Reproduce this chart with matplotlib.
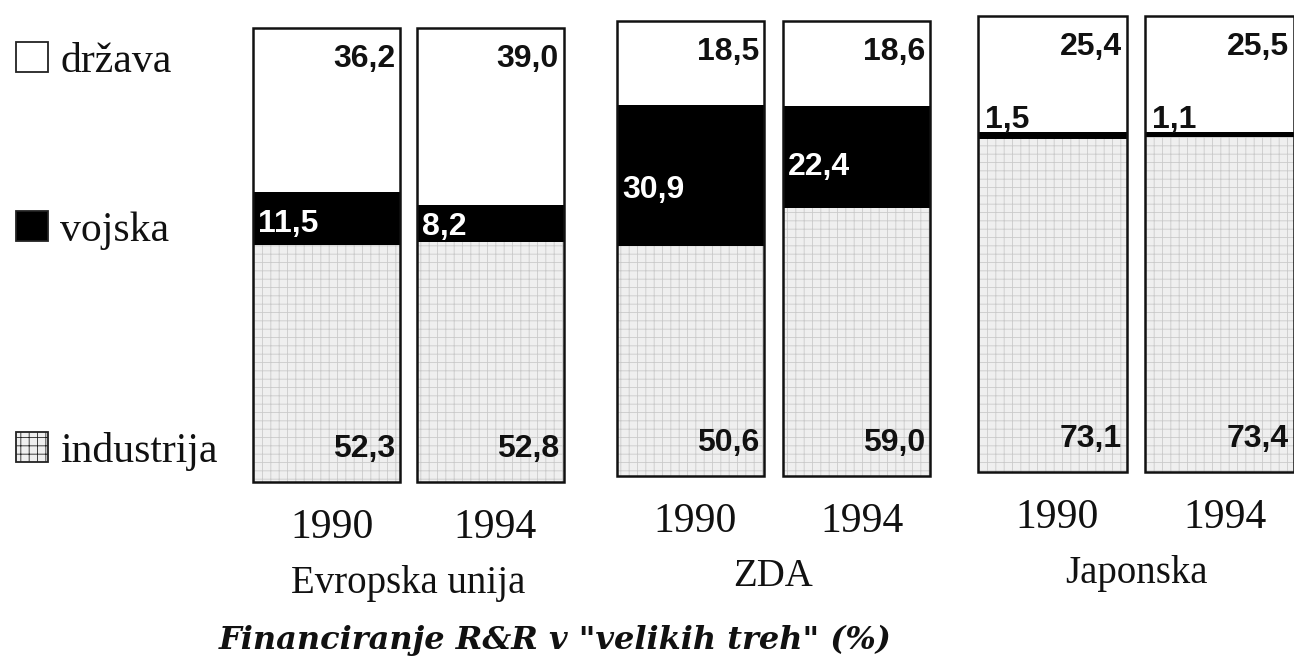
import matplotlib.pyplot as plt
from matplotlib.patches import Rectangle

groups = ['Evropska unija', 'ZDA', 'Japonska']
years = ['1990', '1994']
series = ['država', 'vojska', 'industrija']
drzava = [[36.2, 39.0], [18.5, 18.6], [25.4, 25.5]]
vojska = [[11.5, 8.2], [30.9, 22.4], [1.5, 1.1]]
industrija = [[52.3, 52.8], [50.6, 59.0], [73.1, 73.4]]
title = 'Financiranje R&R v "velikih treh" (%)'

W, H = 1294, 660
px = 0.72  # points per pixel at dpi 100
serif = 'Liberation Serif'
sans = 'Liberation Sans'

plt.rcParams['hatch.linewidth'] = 0.6

fig = plt.figure(figsize=(W / 100, H / 100), dpi=100)

# pixel boxes of each group (left, right, top, bottom) - the scan is slightly tilted
boxes = [(253, 564, 28, 482), (617, 930, 21, 476), (978, 1294, 16, 472)]
bar_w = [0.9, 0.885, 0.89]

def fmt(v):
    return f'{v:.1f}'.replace('.', ',')

for g, name in enumerate(groups):
    l, r, t, b = boxes[g]
    ax = fig.add_axes([l / W, 1 - b / H, (r - l) / W, (b - t) / H])
    w = bar_w[g]
    ax.set_xlim(-w / 2, 1 + w / 2)
    ax.set_ylim(0, 100)
    ax.set_axis_off()
    x = [0, 1]
    ind = industrija[g]
    voj = vojska[g]
    drz = drzava[g]
    bot2 = [a + c for a, c in zip(ind, voj)]
    tot = [a + c for a, c in zip(bot2, drz)]
    ax.bar(x, ind, width=w, color='#efefef', edgecolor='#cacaca', hatch='++', linewidth=0)
    ax.bar(x, voj, width=w, bottom=ind, color='black', linewidth=0)
    ax.bar(x, drz, width=w, bottom=bot2, color='white', linewidth=0)
    ax.bar(x, tot, width=w, fill=False, edgecolor='#111111', linewidth=1.8, clip_on=False)

    for i in x:
        right = i + w / 2
        left = i - w / 2
        ax.annotate(fmt(drz[i]), xy=(right, tot[i]), xytext=(-5 * px, -31 * px),
                    textcoords='offset points', ha='right', va='center',
                    fontfamily=sans, fontweight='bold', fontsize=23, color='#111111')
        ax.annotate(fmt(ind[i]), xy=(right, 0), xytext=(-5 * px, 33 * px),
                    textcoords='offset points', ha='right', va='center',
                    fontfamily=sans, fontweight='bold', fontsize=23, color='#111111')
        if voj[i] > 5:
            ax.annotate(fmt(voj[i]), xy=(left, ind[i] + 0.4 * voj[i]), xytext=(5 * px, 0),
                        textcoords='offset points', ha='left', va='center',
                        fontfamily=sans, fontweight='bold', fontsize=23, color='white')
        else:
            ax.annotate(fmt(voj[i]), xy=(left, bot2[i]), xytext=(7 * px, 12 * px),
                        textcoords='offset points', ha='left', va='center',
                        fontfamily=sans, fontweight='bold', fontsize=23, color='#111111')
        ax.annotate(years[i], xy=(i, 0), xycoords=('data', 'axes fraction'),
                    xytext=(5 * px, -46 * px), textcoords='offset points',
                    ha='center', va='center', fontfamily=serif, fontsize=30,
                    color='#111111', annotation_clip=False)
    ax.annotate(name, xy=(0.5, 0), xycoords=('data', 'axes fraction'),
                xytext=(0, -101 * px), textcoords='offset points',
                ha='center', va='center', fontfamily=serif, fontsize=28,
                color='#111111', annotation_clip=False)

# legend drawn on the left
lg = fig.add_axes([0, 0, 250 / W, 1])
lg.set_xlim(0, 250)
lg.set_ylim(H, 0)
lg.set_axis_off()
leg_style = [dict(facecolor='white'), dict(facecolor='black'),
             dict(facecolor='#efefef', hatch='++')]
leg_y = [42, 211, 432]
for k, lab in enumerate(series):
    lg.add_patch(Rectangle((16, leg_y[k]), 32, 30, edgecolor='#222222',
                           linewidth=1.3, **leg_style[k]))
    lg.text(60, leg_y[k] + 30, lab, ha='left', va='baseline',
            fontfamily=serif, fontsize=30, color='#111111')

fig.text(555 / W, 1 - 640 / H, title, ha='center', va='center',
         fontfamily='DejaVu Serif', fontweight='bold', fontstyle='italic',
         fontsize=23, color='#111111')

fig.savefig('out.png', dpi=100, facecolor='white')
